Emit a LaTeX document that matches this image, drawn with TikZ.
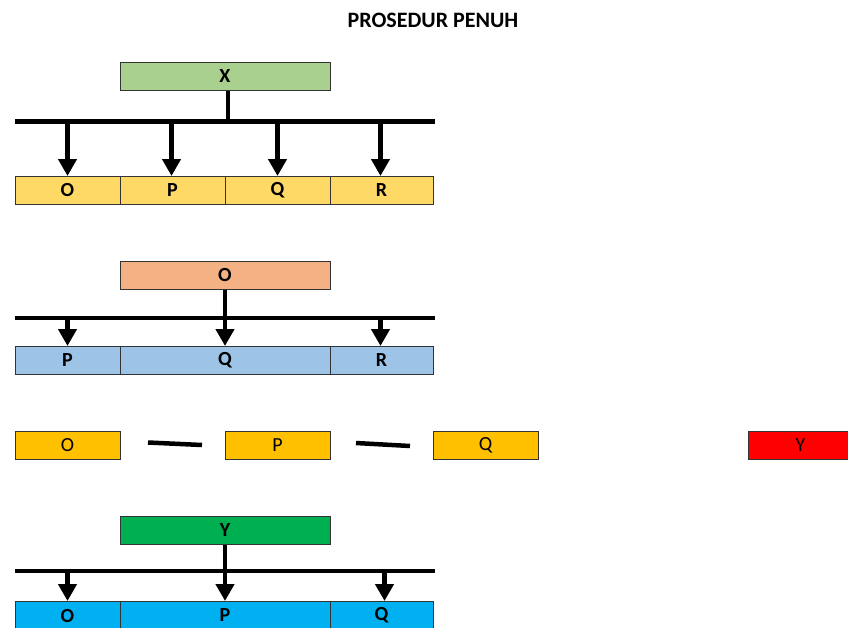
\documentclass[tikz,border=0pt]{standalone}
\usepackage{fontspec}
\setmainfont{Carlito}
\usetikzlibrary{arrows.meta}
\definecolor{cX}{HTML}{A9D08E}
\definecolor{cYel}{HTML}{FFD966}
\definecolor{cSal}{HTML}{F4B183}
\definecolor{cBlu}{HTML}{9DC3E6}
\definecolor{cOr}{HTML}{FFC000}
\definecolor{cRed}{HTML}{FF0000}
\definecolor{cGr}{HTML}{00B050}
\definecolor{cCy}{HTML}{00B0F0}
\tikzset{
  lbl/.style={font=\fontsize{20}{20}\selectfont\bfseries},
  box/.style={draw=black!80, line width=0.8pt, inner sep=0pt, outer sep=0pt,
    anchor=north west, minimum height=28.5pt, lbl},
  plainbox/.style={box, font=\fontsize{20}{20}\selectfont},
  bar/.style={line width=4.5pt},
  arr/.style={line width=4.5pt, -{Triangle[width=18pt,length=17pt]}},
  dashline/.style={line width=4.5pt},
}
\begin{document}
\begin{tikzpicture}[x=1pt,y=-1pt]
\clip (0,0) rectangle (848,627);
\fill[white] (0,0) rectangle (848,627);
\node[font=\fontsize{22}{22}\selectfont\bfseries] (title) at (433,20) {PROSEDUR PENUH};

% Section 1
\node[box, fill=cX, minimum width=210pt] (X) at (120,62) {X};
\node[box, fill=cYel, minimum width=105pt] (o1) at (15,176) {O};
\node[box, fill=cYel, minimum width=105pt] (p1) at (120,176) {P};
\node[box, fill=cYel, minimum width=105pt] (q1) at (225,176) {Q};
\node[box, fill=cYel, minimum width=103pt] (r1) at (330,176) {R};
\coordinate (b1l) at (15,121.5);
\coordinate (b1r) at (435,121.5);
\draw[bar] (b1l) -- (b1r);
\draw[bar] ([xshift=3pt]X.south) -- ([xshift=3pt]X.south |- b1l);
\draw[arr] (o1.north |- b1l) -- (o1.north);
\draw[arr] ([xshift=-1pt]p1.north |- b1l) -- ([xshift=-1pt]p1.north);
\draw[arr] (q1.north |- b1l) -- (q1.north);
\draw[arr] ([xshift=-1pt]r1.north |- b1l) -- ([xshift=-1pt]r1.north);

% Section 2
\node[box, fill=cSal, minimum width=210pt] (O2) at (120,261) {O};
\node[box, fill=cBlu, minimum width=105pt] (p2) at (15,346) {P};
\node[box, fill=cBlu, minimum width=210pt] (q2) at (120,346) {Q};
\node[box, fill=cBlu, minimum width=103pt] (r2) at (330,346) {R};
\coordinate (b2l) at (15,318);
\coordinate (b2r) at (435,318);
\draw[bar] (b2l) -- (b2r);
\draw[arr] (p2.north |- b2l) -- (p2.north);
\draw[arr] (O2.south) -- (q2.north);
\draw[arr] ([xshift=-1pt]r2.north |- b2l) -- ([xshift=-1pt]r2.north);

% Section 3
\node[plainbox, fill=cOr, minimum width=105pt] (o3) at (15,431) {O};
\node[plainbox, fill=cOr, minimum width=105pt] (p3) at (225,431) {P};
\node[plainbox, fill=cOr, minimum width=105pt] (q3) at (433,431) {Q};
\node[plainbox, fill=cRed, minimum width=105pt] (y3) at (748,431) {Y};
\coordinate (d1a) at (148,442.5);
\coordinate (d1b) at (202,445);
\coordinate (d2a) at (356,443);
\coordinate (d2b) at (410,446);
\draw[dashline] (d1a) -- (d1b);
\draw[dashline] (d2a) -- (d2b);

% Section 4
\node[box, fill=cGr, minimum width=210pt] (Y4) at (120,516) {Y};
\node[box, fill=cCy, minimum width=105pt, minimum height=40pt] (o4) at (15,601) {};
\node[box, fill=cCy, minimum width=210pt, minimum height=40pt] (p4) at (120,601) {};
\node[box, fill=cCy, minimum width=103pt, minimum height=40pt] (q4) at (330,601) {};
\node[lbl] (o4t) at ([yshift=-14.5pt]o4.north) {O};
\node[lbl] (p4t) at ([yshift=-14.5pt]p4.north) {P};
\node[lbl] (q4t) at ([yshift=-14.5pt]q4.north) {Q};
\coordinate (b4l) at (15,571);
\coordinate (b4r) at (435,571);
\draw[bar] (b4l) -- (b4r);
\draw[arr] (o4.north |- b4l) -- (o4.north);
\draw[arr] (Y4.south) -- (p4.north);
\draw[arr] ([xshift=3pt]q4.north |- b4l) -- ([xshift=3pt]q4.north);
\end{tikzpicture}
\end{document}
